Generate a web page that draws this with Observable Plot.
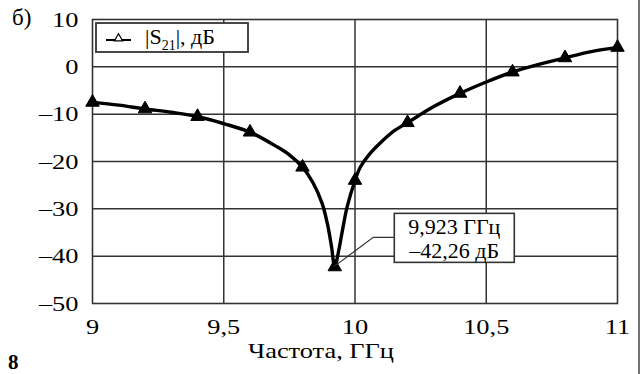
<!DOCTYPE html>
<html><head><meta charset="utf-8">
<script src="https://cdn.jsdelivr.net/npm/d3@7"></script>
<script src="https://cdn.jsdelivr.net/npm/@observablehq/plot@0.6"></script>
<style>body{margin:0;background:#fff}#c{position:relative;width:642px;height:374px;overflow:hidden}</style>
</head><body><div id="c"></div>
<script>
// Curve |S21| (dB) vs frequency (GHz)
const curveFreq = [9.0, 9.1, 9.2, 9.3, 9.4, 9.5, 9.6, 9.7, 9.75, 9.8, 9.84, 9.875, 9.895, 9.91, 9.923, 9.938, 9.952, 9.97, 10.0, 10.02, 10.05, 10.1, 10.15, 10.2, 10.3, 10.4, 10.5, 10.6, 10.7, 10.8, 10.9, 11.0];
const curveS21  = [-7.5, -8.1, -8.9, -9.6, -10.5, -12.0, -13.8, -16.8, -18.6, -21.2, -24.5, -28.9, -33.2, -37.8, -42.26, -38.8, -34.6, -29.6, -24.0, -21.2, -18.8, -15.9, -13.5, -11.8, -8.4, -5.6, -3.2, -1.1, 0.5, 1.9, 3.2, 4.1];
// Marker points
const markerFreq = [9.0, 9.2, 9.4, 9.6, 9.8, 9.923, 10.0, 10.2, 10.4, 10.6, 10.8, 11.0];
const markerS21  = [-7.5, -8.9, -10.5, -13.8, -21.2, -42.26, -24.0, -11.8, -5.6, -1.1, 1.9, 4.1];
const xTicks = [9, 9.5, 10, 10.5, 11];
const yTicks = [10, 0, -10, -20, -30, -40, -50];
const xLabel = "Частота, ГГц";
const legendLabel = ["|S", "21", "|, дБ"];
const minFreq = 9.923, minS21 = -42.26;
const annotLines = ["9,923 ГГц", "–42,26 дБ"];
const panelLabel = "б)";
const figLabel = "8";

const curve = curveFreq.map((f, i) => ({f, v: curveS21[i]}));
const markers = markerFreq.map((f, i) => ({f, v: markerS21[i]}));
const FONT = "'Liberation Serif', Tinos, 'Times New Roman', 'DejaVu Serif', serif";
const gridColor = "#333";

const chart = Plot.plot({
  width: 642, height: 374,
  marginLeft: 92, marginRight: 25, marginTop: 19, marginBottom: 71,
  style: {fontFamily: FONT, fontSize: "22px", color: "#000", background: "#fff", overflow: "visible"},
  x: {domain: [9, 11]},
  y: {domain: [-50, 10]},
  marks: [
    Plot.gridX(xTicks.slice(1, -1), {stroke: gridColor, strokeOpacity: 1, strokeWidth: 1.5}),
    Plot.gridY(yTicks.slice(1, -1), {stroke: gridColor, strokeOpacity: 1, strokeWidth: 1.5}),
    Plot.frame({stroke: gridColor, strokeWidth: 1.6}),
    Plot.axisX(xTicks, {tickSize: 0, tickPadding: 15, label: null, fontSize: 22,
      tickFormat: d => String(d).replace(".", ",")}),
    Plot.axisY(yTicks, {tickSize: 0, tickPadding: 14, label: null, fontSize: 22,
      tickFormat: d => d < 0 ? "–" + Math.abs(d) : String(d)}),
    Plot.text([xLabel], {frameAnchor: "bottom", dx: -34, dy: 47, lineAnchor: "middle", fontSize: 22, fill: "#000"}),
    Plot.line(curve, {x: "f", y: "v", curve: "catmull-rom", stroke: "#000", strokeWidth: 3.4}),
    Plot.dot(markers, {x: "f", y: "v", symbol: "triangle", r: 5, fill: "#000", stroke: "#000", strokeWidth: 1})
  ]
});
document.getElementById("c").appendChild(chart);

const svg = d3.select(chart);
const sx = chart.scale("x"), sy = chart.scale("y");

// The reference's axis texts are horizontally wider: stretch them about their anchor
function stretch(el, k) {
  el.setAttribute("transform", (el.getAttribute("transform") || "") + ` scale(${k},1)`);
}
svg.selectAll('g[aria-label="x-axis tick label"] text, g[aria-label="y-axis tick label"] text, g[aria-label="text"] text')
  .each(function() { stretch(this, 1.2); });

// Legend box
const lg = svg.append("g").attr("text-anchor", "start");
lg.append("rect").attr("x", 96).attr("y", 23).attr("width", 152).attr("height", 29)
  .attr("fill", "#fff").attr("stroke", gridColor).attr("stroke-width", 1.8);
lg.append("line").attr("x1", 106).attr("x2", 131).attr("y1", 40).attr("y2", 40)
  .attr("stroke", "#000").attr("stroke-width", 2);
lg.append("path").attr("d", d3.symbol(d3.symbolTriangle, 30)()).attr("transform", "translate(118.5,38.5)")
  .attr("fill", "#fff").attr("stroke", "#000").attr("stroke-width", 1.2);
const lt = lg.append("text").attr("x", 145).attr("y", 44).attr("text-anchor", "start")
  .attr("font-family", FONT).attr("font-size", 22).attr("fill", "#000");
lt.append("tspan").text(legendLabel[0]);
lt.append("tspan").attr("font-size", 14).attr("dy", 6).text(legendLabel[1]);
lt.append("tspan").attr("dy", -6).text(legendLabel[2]);

// Annotation
const px = sx.apply(minFreq), py = sy.apply(minS21);
const an = svg.append("g");
an.append("polyline").attr("points", `${px},${py} ${px + 39},${py - 29} ${px + 60},${py - 29}`)
  .attr("fill", "none").attr("stroke", "#333").attr("stroke-width", 1.2);
an.append("rect").attr("x", px + 60).attr("y", py - 53).attr("width", 120).attr("height", 49)
  .attr("fill", "#fff").attr("stroke", "#333").attr("stroke-width", 1.6);
annotLines.forEach((t, i) => {
  an.append("text").attr("x", px + 120).attr("y", py - 40 + i * 24).attr("dy", "0.35em")
    .attr("text-anchor", "middle").attr("font-family", FONT).attr("font-size", 22).attr("fill", "#000").text(t);
});

// Panel labels and page border
svg.append("text").attr("x", 12).attr("y", 25).attr("text-anchor", "start").attr("font-family", FONT).attr("font-size", 23).attr("fill", "#000").text(panelLabel);
svg.append("text").attr("x", 8).attr("y", 369).attr("text-anchor", "start").attr("font-family", FONT).attr("font-size", 21).attr("font-weight", "bold").attr("fill", "#000").text(figLabel);
svg.append("line").attr("x1", 639).attr("x2", 639).attr("y1", 0).attr("y2", 374).attr("stroke", "#444").attr("stroke-width", 1.5);
</script></body></html>
